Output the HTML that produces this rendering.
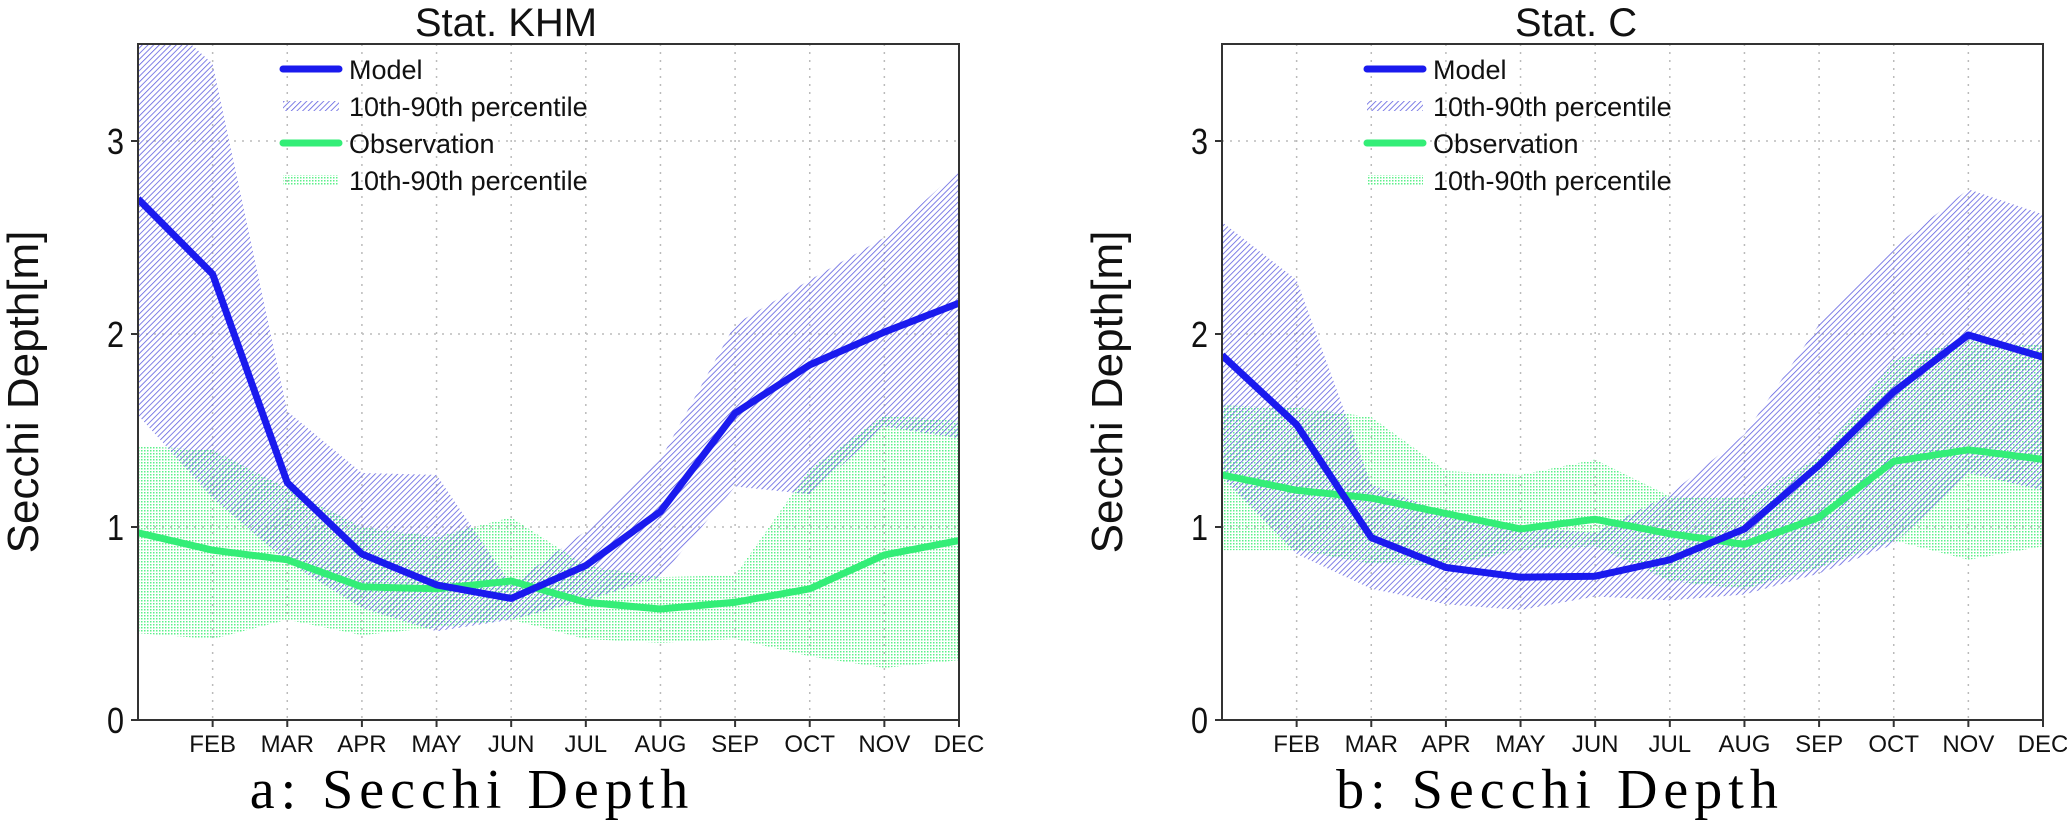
<!DOCTYPE html>
<html><head><meta charset="utf-8">
<style>
html,body{margin:0;padding:0;background:#fff;}
svg{display:block;}
</style></head>
<body>
<svg id="fig" width="2067" height="823" viewBox="0 0 2067 823" xmlns="http://www.w3.org/2000/svg" font-family="Liberation Sans, sans-serif">
<defs>
<pattern id="hatchBlue" patternUnits="userSpaceOnUse" width="4" height="4" patternTransform="rotate(45)">
<line x1="0" y1="0" x2="0" y2="4" stroke="#6060e0" stroke-width="1.6"/>
</pattern>
<pattern id="dotGreen" patternUnits="userSpaceOnUse" width="3" height="3">
<rect x="0" y="0" width="1.5" height="1.5" fill="#5cf08a"/>
</pattern>
</defs>
</svg>
<script>
const months = ["JAN","FEB","MAR","APR","MAY","JUN","JUL","AUG","SEP","OCT","NOV","DEC"];
const yTicks = [0,1,2,3];
// Panel A: Stat. KHM
const khmModel = [2.70,2.31,1.23,0.86,0.70,0.63,0.80,1.08,1.59,1.84,2.01,2.16];
const khmModelHi = [3.75,3.40,1.60,1.28,1.27,0.70,0.98,1.35,2.05,2.28,2.50,2.85];
const khmModelLo = [1.58,1.15,0.82,0.58,0.46,0.52,0.62,0.74,1.21,1.17,1.52,1.46];
const khmObs = [0.97,0.88,0.83,0.69,0.68,0.72,0.61,0.575,0.61,0.68,0.855,0.93];
const khmObsHi = [1.42,1.40,1.20,1.00,0.95,1.05,0.80,0.74,0.75,1.30,1.58,1.55];
const khmObsLo = [0.45,0.42,0.52,0.44,0.48,0.52,0.42,0.40,0.42,0.33,0.27,0.31];
// Panel B: Stat. C
const cModel = [1.89,1.53,0.945,0.79,0.74,0.745,0.83,0.99,1.32,1.70,1.995,1.88];
const cModelHi = [2.58,2.28,1.22,1.07,1.00,0.97,1.17,1.48,2.05,2.45,2.75,2.62];
const cModelLo = [1.26,0.86,0.68,0.60,0.57,0.64,0.62,0.65,0.76,0.91,1.28,1.19];
const cObs = [1.27,1.19,1.15,1.07,0.99,1.04,0.965,0.91,1.05,1.34,1.40,1.35];
const cObsHi = [1.63,1.62,1.57,1.29,1.27,1.35,1.16,1.15,1.36,1.87,1.97,1.94];
const cObsLo = [0.88,0.88,0.81,0.80,0.88,0.90,0.72,0.68,0.79,0.93,0.83,0.90];

const NS = "http://www.w3.org/2000/svg";
const svg = document.getElementById("fig");
function mk(tag, attrs, parent){ const e=document.createElementNS(NS,tag); for(const k in attrs) e.setAttribute(k,attrs[k]); (parent||svg).appendChild(e); return e; }

function panel(prefix, x0, title, titleX, caption, captionX, model, mHi, mLo, obs, oHi, oLo){
  const x1 = x0 + 821, yTop = 44, yBot = 720;
  const xs = i => x0 + (x1 - x0) * i / 11;
  const ys = v => yBot - v * 193;
  const g = mk("g", {});
  
  
  const clipId = prefix + "-clip";
  const cp = mk("clipPath", {id: clipId}, g);
  mk("rect", {x:x0, y:yTop, width:x1-x0, height:yBot-yTop}, cp);
  for (let i=1;i<11;i++){
    const l = mk("line",{x1:xs(i),x2:xs(i),y1:yTop,y2:yBot,stroke:"#bbb","stroke-width":1.5,"stroke-dasharray":"2 6"},g);
    
    
  }
  yTicks.forEach(v=>{ if(v>0){
    const l = mk("line",{x1:x0,x2:x1,y1:ys(v),y2:ys(v),stroke:"#bbb","stroke-width":1.5,"stroke-dasharray":"2 6"},g);
    
    
  }});
  const area = (hi, lo) => { let d=""; hi.forEach((v,i)=>{d+=(i?"L":"M")+xs(i)+","+ys(v);}); for(let i=lo.length-1;i>=0;i--) d+="L"+xs(i)+","+ys(lo[i]); return d+"Z"; };
  const line = arr => arr.map((v,i)=>(i?"L":"M")+xs(i)+","+ys(v)).join("");
  const cg = mk("g",{"clip-path":"url(#"+clipId+")"},g);
  const ob = mk("path",{d:area(oHi,oLo),fill:"url(#dotGreen)"},cg);
  
  
  const mb = mk("path",{d:area(mHi,mLo),fill:"url(#hatchBlue)"},cg);
  
  
  const ol = mk("path",{d:line(obs),fill:"none",stroke:"#33ee77","stroke-width":7,"stroke-linejoin":"round"},cg);
  
  
  const ml = mk("path",{d:line(model),fill:"none",stroke:"#1a1aee","stroke-width":7,"stroke-linejoin":"round"},cg);
  
  
  const fr = mk("rect",{x:x0,y:yTop,width:x1-x0,height:yBot-yTop,fill:"none",stroke:"#333","stroke-width":2},g);
  
  
  for (let i=1;i<12;i++){
    mk("line",{x1:xs(i),x2:xs(i),y1:yBot,y2:yBot+7,stroke:"#333","stroke-width":2},g);
    const t = mk("text",{x:xs(i),y:752,"text-anchor":"middle","font-size":24,fill:"#111"},g);
    t.textContent = months[i];
    
    
  }
  yTicks.forEach(v=>{
    mk("line",{x1:x0-7,x2:x0,y1:ys(v),y2:ys(v),stroke:"#333","stroke-width":2},g);
    const t = mk("text",{x:x0-14,y:ys(v)+13,"text-anchor":"end","font-size":36,fill:"#111",transform:"translate("+(x0-14)+",0) scale(0.85,1) translate("+(-(x0-14))+",0)"},g);
    t.textContent = v;
    
    
  });
  const yl = mk("text",{x:0,y:0,"text-anchor":"middle","font-size":44,fill:"#111",transform:"translate("+(x0-100)+",392) rotate(-90)"},g);
  yl.textContent = "Secchi Depth[m]";
  
  
  const tt = mk("text",{x:titleX,y:36,"text-anchor":"middle","font-size":40,fill:"#111"},g);
  tt.textContent = title;
  
  
  const cap = mk("text",{x:captionX,y:808,"text-anchor":"middle","font-size":56,"letter-spacing":6,fill:"#000","font-family":"Liberation Serif, serif"},g);
  cap.textContent = caption;
  
  
  const lx = x0 + 145, lt = x0 + 211;
  const rows = [69,106,143,180];
  const lg = mk("g",{},g);
  
  
  mk("line",{x1:lx,x2:lx+56,y1:rows[0],y2:rows[0],stroke:"#1a1aee","stroke-width":7,"stroke-linecap":"round"},lg);
  mk("rect",{x:lx,y:rows[1]-5,width:56,height:10,fill:"url(#hatchBlue)"},lg);
  mk("line",{x1:lx,x2:lx+56,y1:rows[2],y2:rows[2],stroke:"#33ee77","stroke-width":7,"stroke-linecap":"round"},lg);
  mk("rect",{x:lx,y:rows[3]-5,width:56,height:10,fill:"url(#dotGreen)"},lg);
  const labels = ["Model","10th-90th percentile","Observation","10th-90th percentile"];
  labels.forEach((s,i)=>{
    const t = mk("text",{x:lt,y:rows[i]+10,"font-size":27,fill:"#111"},lg);
    t.textContent = s;
    
    
  });
}
panel("khm", 138, "Stat. KHM", 506, "a: Secchi Depth", 472, khmModel, khmModelHi, khmModelLo, khmObs, khmObsHi, khmObsLo);
panel("statc", 1222, "Stat. C", 1576, "b: Secchi Depth", 1560, cModel, cModelHi, cModelLo, cObs, cObsHi, cObsLo);
</script>
</body></html>
